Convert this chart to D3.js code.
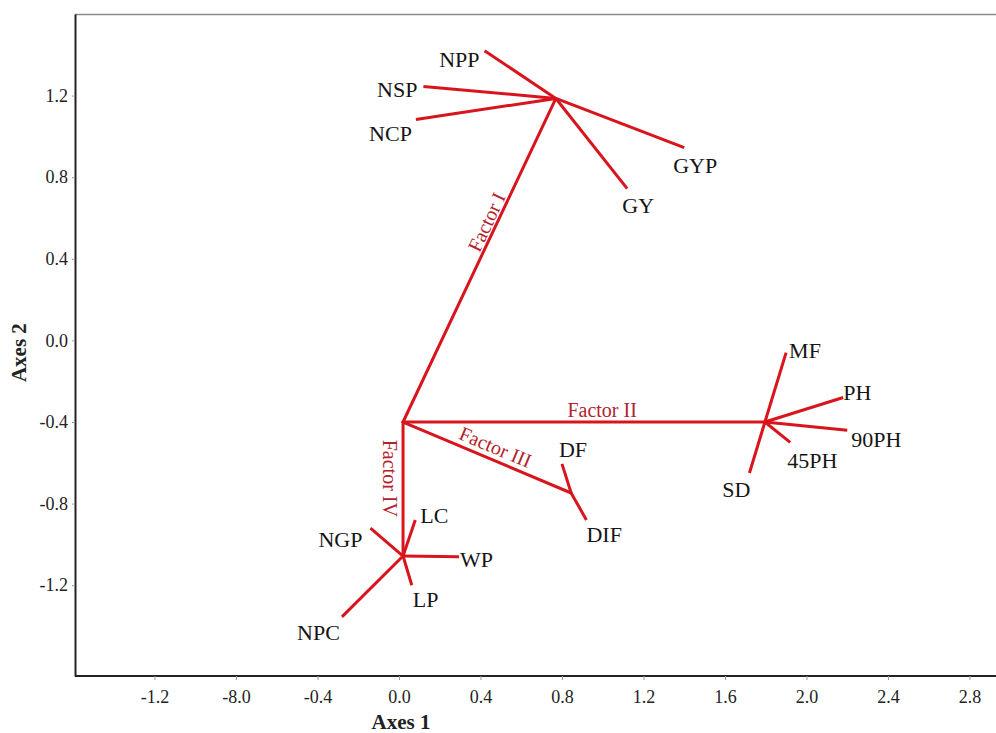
<!DOCTYPE html>
<html>
<head>
<meta charset="utf-8">
<script src="https://cdn.jsdelivr.net/npm/d3@7"></script>
<style>
  body { margin: 0; background: #fff; }
  svg { display: block; }
</style>
</head>
<body>
<div id="vis"></div>
<script>
// origin of the factor lines
var originX = 0.02;
var originY = -0.4;

// factor hub coordinates
var factorNames = ['Factor I', 'Factor II', 'Factor III', 'Factor IV'];
var factorX = [0.77, 1.796, 0.845, 0.02];
var factorY = [1.186, -0.4, -0.748, -1.057];

// variable loadings, each attached to one factor hub
var varNames  = ['NPP', 'NSP', 'NCP', 'GYP', 'GY',
                 'MF', 'PH', '90PH', '45PH', 'SD',
                 'DF', 'DIF',
                 'LC', 'NGP', 'WP', 'LP', 'NPC'];
var varFactor = [0, 0, 0, 0, 0,
                 1, 1, 1, 1, 1,
                 2, 2,
                 3, 3, 3, 3, 3];
var varX = [0.42, 0.12, 0.083, 1.40, 1.12,
            1.90, 2.18, 2.20, 1.92, 1.72,
            0.80, 0.92,
            0.08, -0.14, 0.295, 0.063, -0.28];
var varY = [1.42, 1.245, 1.083, 0.945, 0.744,
            -0.06, -0.28, -0.44, -0.50, -0.65,
            -0.605, -0.88,
            -0.88, -0.92, -1.06, -1.2, -1.355];

// axis ticks (the original figure prints "-8.0" for -0.8)
var xTickValues = [-1.2, -0.8, -0.4, 0.0, 0.4, 0.8, 1.2, 1.6, 2.0, 2.4, 2.8];
var xTickLabels = ['-1.2', '-8.0', '-0.4', '0.0', '0.4', '0.8', '1.2', '1.6', '2.0', '2.4', '2.8'];
var yTickValues = [1.2, 0.8, 0.4, 0.0, -0.4, -0.8, -1.2];
var yTickLabels = ['1.2', '0.8', '0.4', '0.0', '-0.4', '-0.8', '-1.2'];

// label placement (pixels, relative to the end of each line)
var labelLayout = {
  'NPP':  { anchor: 'end',    dx: -5,  dy: 16 },
  'NSP':  { anchor: 'end',    dx: -6,  dy: 11 },
  'NCP':  { anchor: 'end',    dx: -4,  dy: 22 },
  'GYP':  { anchor: 'middle', dx: 11,  dy: 25 },
  'GY':   { anchor: 'middle', dx: 11,  dy: 24 },
  'MF':   { anchor: 'start',  dx: 3,   dy: 5 },
  'PH':   { anchor: 'start',  dx: 0,   dy: 2 },
  '90PH': { anchor: 'start',  dx: 4,   dy: 17 },
  '45PH': { anchor: 'start',  dx: -3,  dy: 26 },
  'SD':   { anchor: 'middle', dx: -13, dy: 24 },
  'DF':   { anchor: 'start',  dx: -3,  dy: -7 },
  'DIF':  { anchor: 'start',  dx: 0,   dy: 22 },
  'LC':   { anchor: 'start',  dx: 5,   dy: 3 },
  'NGP':  { anchor: 'end',    dx: -8,  dy: 19 },
  'WP':   { anchor: 'start',  dx: 1,   dy: 10 },
  'LP':   { anchor: 'start',  dx: 1,   dy: 22 },
  'NPC':  { anchor: 'end',    dx: -2,  dy: 23 }
};
// where along each factor line its label sits, and the offset from the line
var factorLabelT = [0.605, 0.55, 0.52, 0.42];
var factorLabelOff = [-3, -5, -6, 20];

var width = 996;
var height = 733;
var margin = { top: 14, left: 75, bottom: 57, right: 0 };

var lineColor = '#d8141c';
var factorTextColor = '#b3222c';
var serif = '"Liberation Serif", "Times New Roman", serif';

var svg = d3.select('#vis').append('svg')
  .attr('width', width)
  .attr('height', height);

var x = d3.scaleLinear()
  .domain([-1.59, 2.935])
  .range([margin.left, width + 1]);

var y = d3.scaleLinear()
  .domain([-1.645, 1.60])
  .range([height - margin.bottom, margin.top]);

// frame: grey top line, dark left and bottom axes
svg.append('line')
  .attr('x1', margin.left).attr('x2', width)
  .attr('y1', margin.top + 0.5).attr('y2', margin.top + 0.5)
  .attr('stroke', '#8a8a8a')
  .attr('stroke-width', 1.5);

var xAxis = d3.axisBottom(x)
  .tickValues(xTickValues)
  .tickFormat(function (d, i) { return xTickLabels[i]; })
  .tickSizeInner(4)
  .tickSizeOuter(0)
  .tickPadding(10);

var yAxis = d3.axisLeft(y)
  .tickValues(yTickValues)
  .tickFormat(function (d, i) { return yTickLabels[i]; })
  .tickSizeInner(3)
  .tickSizeOuter(0)
  .tickPadding(4);

var gx = svg.append('g')
  .attr('transform', 'translate(0,' + (height - margin.bottom) + ')')
  .call(xAxis);

var gy = svg.append('g')
  .attr('transform', 'translate(' + margin.left + ',0)')
  .call(yAxis);

[gx, gy].forEach(function (g) {
  g.select('.domain').attr('stroke', '#222').attr('stroke-width', 2);
  g.selectAll('.tick line').attr('stroke', '#999');
  g.selectAll('.tick text')
    .attr('font-family', serif)
    .attr('font-size', 18)
    .attr('fill', '#222');
});
gx.select('.domain').attr('d', 'M' + margin.left + ',0H' + (width + 2));

// axis titles
svg.append('text')
  .attr('x', x(0.01))
  .attr('y', 729)
  .attr('text-anchor', 'middle')
  .attr('font-family', serif)
  .attr('font-weight', 'bold')
  .attr('font-size', 21)
  .attr('fill', '#222')
  .text('Axes 1');

svg.append('text')
  .attr('transform', 'translate(26,' + y(-0.06) + ') rotate(-90)')
  .attr('text-anchor', 'middle')
  .attr('font-family', serif)
  .attr('font-weight', 'bold')
  .attr('font-size', 21)
  .attr('fill', '#222')
  .text('Axes 2');

// factor lines
var factors = factorNames.map(function (name, i) {
  return { name: name, x: factorX[i], y: factorY[i], t: factorLabelT[i], off: factorLabelOff[i] };
});

svg.selectAll('.factor-line').data(factors)
  .enter().append('line')
  .attr('class', 'factor-line')
  .attr('x1', x(originX)).attr('y1', y(originY))
  .attr('x2', function (d) { return x(d.x); })
  .attr('y2', function (d) { return y(d.y); })
  .attr('stroke', lineColor)
  .attr('stroke-width', 3)
  .attr('stroke-linecap', 'round');

// variable lines
var vars = varNames.map(function (name, i) {
  var f = factors[varFactor[i]];
  return { name: name, hx: f.x, hy: f.y, x: varX[i], y: varY[i] };
});

svg.selectAll('.var-line').data(vars)
  .enter().append('line')
  .attr('class', 'var-line')
  .attr('x1', function (d) { return x(d.hx); })
  .attr('y1', function (d) { return y(d.hy); })
  .attr('x2', function (d) { return x(d.x); })
  .attr('y2', function (d) { return y(d.y); })
  .attr('stroke', lineColor)
  .attr('stroke-width', 3)
  .attr('stroke-linecap', 'butt');

// variable labels
svg.selectAll('.var-label').data(vars)
  .enter().append('text')
  .attr('class', 'var-label')
  .attr('x', function (d) { return x(d.x) + labelLayout[d.name].dx; })
  .attr('y', function (d) { return y(d.y) + labelLayout[d.name].dy; })
  .attr('text-anchor', function (d) { return labelLayout[d.name].anchor; })
  .attr('font-family', serif)
  .attr('font-size', 22)
  .attr('fill', '#151515')
  .text(function (d) { return d.name; });

// factor labels, rotated along their lines
svg.selectAll('.factor-label').data(factors)
  .enter().append('text')
  .attr('class', 'factor-label')
  .attr('transform', function (d) {
    var x0 = x(originX), y0 = y(originY);
    var x1 = x(d.x), y1 = y(d.y);
    var px = x0 + (x1 - x0) * d.t;
    var py = y0 + (y1 - y0) * d.t;
    var ang = Math.atan2(y1 - y0, x1 - x0) * 180 / Math.PI;
    return 'translate(' + px + ',' + py + ') rotate(' + ang + ')';
  })
  .attr('y', function (d) { return d.off; })
  .attr('text-anchor', 'middle')
  .attr('font-family', serif)
  .attr('font-size', 20)
  .attr('fill', factorTextColor)
  .text(function (d) { return d.name; });
</script>
</body>
</html>
